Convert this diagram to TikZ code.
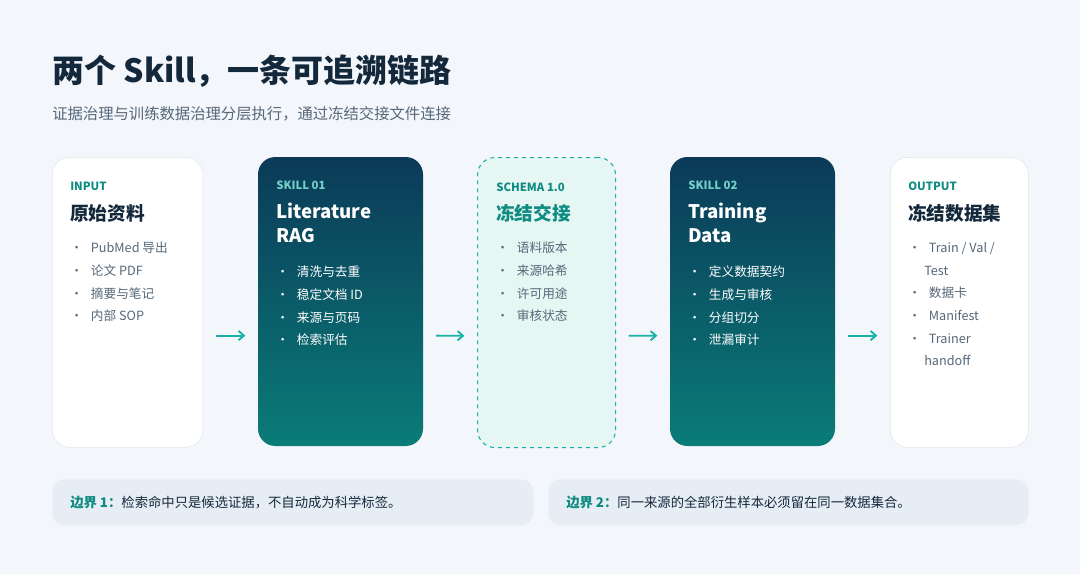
\documentclass[tikz,border=0pt]{standalone}
\usepackage{fontspec}
\setmainfont{Noto Sans CJK SC}
\usetikzlibrary{arrows.meta, positioning}
\definecolor{bgc}{HTML}{F3F6FA}
\definecolor{ink}{HTML}{14283C}
\definecolor{subc}{HTML}{56687A}
\definecolor{tealc}{HTML}{17B3A6}
\definecolor{tealdark}{HTML}{0E8C82}
\definecolor{navy}{HTML}{0B3A58}
\definecolor{sea}{HTML}{0A7C78}
\definecolor{mint}{HTML}{E6F6F3}
\definecolor{note}{HTML}{E7EDF4}
\definecolor{edge}{HTML}{E1E6EC}
\tikzset{
  card/.style={minimum height=217.5pt, inner sep=0pt, rounded corners=13pt, anchor=north west},
  tag/.style={anchor=west, font=\bfseries\fontsize{8.5}{10}\selectfont, inner sep=0pt},
  head/.style={anchor=north west, align=left, font=\bfseries\fontsize{14}{18}\selectfont, inner sep=0pt},
  items/.style={anchor=north west, align=left, font=\fontsize{9.5}{17}\selectfont, inner sep=0pt},
  flow/.style={-{Straight Barb[length=4pt,width=7pt]}, tealc, line width=1.4pt, shorten <=9.5pt, shorten >=9.5pt}
}
\newcommand{\dotitem}[1]{\textbullet\hspace{6pt}#1\\}
\begin{document}
\begin{tikzpicture}[x=0.75pt, y=-0.75pt]
\fill[bgc] (0,0) rectangle (1080,574);
\useasboundingbox (0,0) rectangle (1080,574);
% title
\node[anchor=west, inner sep=0pt, text=ink, font=\bfseries\fontsize{24}{28}\selectfont] (title) at (52,71) {两个 Skill，一条可追溯链路};
\node[anchor=west, inner sep=0pt, text=subc, font=\fontsize{11.5}{14}\selectfont] (sub) at (52,114) {证据治理与训练数据治理分层执行，通过冻结交接文件连接};
% cards
\node[card, fill=white, draw=edge, minimum width=113pt] (in) at (52,157) {};
\shade[rounded corners=13pt, top color=navy, bottom color=sea] (258,157) rectangle (423,446);
\node[card, minimum width=123.75pt] (rag) at (258,157) {};
\node[card, fill=mint, draw=tealc, dashed, line width=0.8pt, minimum width=103.5pt] (schema) at (477,157) {};
\shade[rounded corners=13pt, top color=navy, bottom color=sea] (670,157) rectangle (835,446);
\node[card, minimum width=123.75pt] (data) at (670,157) {};
\node[card, fill=white, draw=edge, minimum width=103.5pt] (out) at (890,157) {};
% card texts
\node[tag, text=tealdark] at (70,186) {INPUT};
\node[head, text=ink] at (70,204) {原始资料};
\node[items, text=subc] at (70,242) {\dotitem{PubMed 导出}\dotitem{论文 PDF}\dotitem{摘要与笔记}\dotitem{内部 SOP}};
\node[tag, text=tealc!60!white] at (276,185) {SKILL 01};
\node[head, text=white] at (276,203) {Literature\\RAG};
\node[items, text=white] at (276,266) {\dotitem{清洗与去重}\dotitem{稳定文档 ID}\dotitem{来源与页码}\dotitem{检索评估}};
\node[tag, text=tealdark] at (496,187) {SCHEMA 1.0};
\node[head, text=tealdark] at (496,204) {冻结交接};
\node[items, text=subc] at (496,242) {\dotitem{语料版本}\dotitem{来源哈希}\dotitem{许可用途}\dotitem{审核状态}};
\node[tag, text=tealc!60!white] at (688,185) {SKILL 02};
\node[head, text=white] at (688,203) {Training\\Data};
\node[items, text=white] at (688,266) {\dotitem{定义数据契约}\dotitem{生成与审核}\dotitem{分组切分}\dotitem{泄漏审计}};
\node[tag, text=tealdark] at (908,186) {OUTPUT};
\node[head, text=ink] at (908,204) {冻结数据集};
\node[items, text=subc] at (908,242) {\dotitem{Train / Val /}\hspace{12pt}Test\\\dotitem{数据卡}\dotitem{Manifest}\dotitem{Trainer}\hspace{12pt}handoff};
% arrows
\draw[flow] ([yshift=-25pt]in.east) -- ([yshift=-25pt]rag.west);
\draw[flow] ([yshift=-25pt]rag.east) -- ([yshift=-25pt]schema.west);
\draw[flow] ([yshift=-25pt]schema.east) -- ([yshift=-25pt]data.west);
\draw[flow] ([yshift=-25pt]data.east) -- ([yshift=-25pt]out.west);
% notes
\node[fill=note, rounded corners=9pt, minimum width=360.75pt, minimum height=34.5pt, anchor=north west, inner sep=0pt] (b1) at (52,479) {};
\node[fill=note, rounded corners=9pt, minimum width=360pt, minimum height=34.5pt, anchor=north west, inner sep=0pt] (b2) at (548,479) {};
\node[anchor=west, inner sep=0pt, font=\fontsize{10}{12}\selectfont, text=ink] at (70,502) {\textbf{\color{tealdark}边界 1：}检索命中只是候选证据，不自动成为科学标签。};
\node[anchor=west, inner sep=0pt, font=\fontsize{10}{12}\selectfont, text=ink] at (566,502) {\textbf{\color{tealdark}边界 2：}同一来源的全部衍生样本必须留在同一数据集合。};
\end{tikzpicture}
\end{document}
